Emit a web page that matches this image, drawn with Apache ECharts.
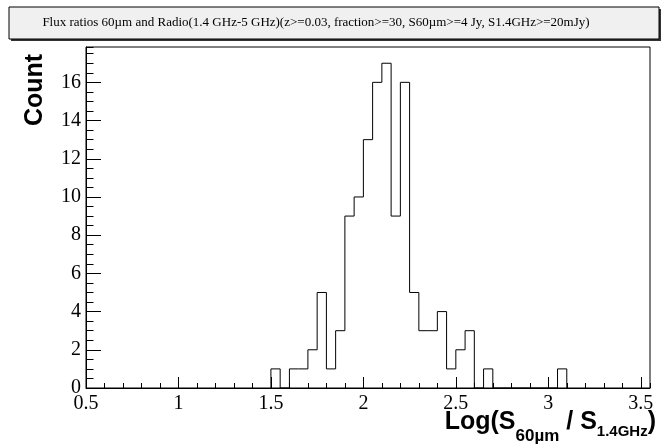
<!DOCTYPE html>
<html>
<head>
<meta charset="utf-8">
<script src="https://cdn.jsdelivr.net/npm/echarts@6/dist/echarts.min.js"></script>
<style>
    html, body { margin: 0; padding: 0; background: #fff; }
    #chart { width: 670px; height: 448px; }
</style>
</head>
<body>
<div id="chart"></div>
<script>
// histogram: bins of width 0.05 starting at 1.50
var binStart = 1.5;
var binWidth = 0.05;
var counts = [1, 0, 1, 1, 2, 5, 1, 3, 9, 10, 13, 16, 17, 9, 16, 5,
              3, 3, 4, 1, 2, 3, 0, 1, 0, 0, 0, 0, 0, 0, 0, 1];
var xTicks = [0.5, 1, 1.5, 2, 2.5, 3, 3.5];
var yTicks = [0, 2, 4, 6, 8, 10, 12, 14, 16];
var titleText = 'Flux ratios 60\u00b5m and Radio(1.4 GHz-5 GHz)(z>=0.03, fraction>=30, S60\u00b5m>=4 Jy, S1.4GHz>=20mJy)';

(function () {
    var chart = echarts.init(document.getElementById('chart'));

    // outline of the histogram as a step line
    var pts = [[binStart, 0]];
    for (var i = 0; i < counts.length; i++) {
        pts.push([+(binStart + i * binWidth).toFixed(2), counts[i]]);
    }
    pts.push([+(binStart + counts.length * binWidth).toFixed(2), 0]);

    var serif = 'Liberation Serif';
    var sans = 'Liberation Sans';

    var option = {
        animation: false,
        backgroundColor: '#fff',
        grid: {
            left: 86, right: 20, top: 47, bottom: 60,
            show: true, borderColor: '#000', borderWidth: 1
        },
        xAxis: [{
            type: 'value', min: 0.5, max: 3.55, interval: 0.5,
            axisLine: { show: true, onZero: false, lineStyle: { color: '#000', width: 1 } },
            axisTick: { inside: true, length: 11, lineStyle: { color: '#000' } },
            axisLabel: {
                showMaxLabel: false, margin: 6, color: '#000',
                fontFamily: serif, fontSize: 20,
                formatter: function (v) { return xTicks.indexOf(+v.toFixed(2)) >= 0 ? String(+v.toFixed(2)) : ''; }
            },
            splitLine: { show: false }
        }, {
            // minor ticks every 0.1
            type: 'value', min: 0.5, max: 3.55, interval: 0.1, position: 'bottom',
            axisLine: { show: false },
            axisTick: { inside: true, length: 5, lineStyle: { color: '#000' } },
            axisLabel: { show: false },
            splitLine: { show: false }
        }],
        yAxis: [{
            type: 'value', min: 0, max: 17.85, interval: 2,
            axisLine: { show: true, onZero: false, lineStyle: { color: '#000', width: 1 } },
            axisTick: { inside: true, length: 15, lineStyle: { color: '#000' } },
            axisLabel: {
                showMaxLabel: false, margin: 5, color: '#000',
                fontFamily: serif, fontSize: 20,
                formatter: function (v) { return yTicks.indexOf(v) >= 0 ? String(v) : ''; }
            },
            splitLine: { show: false }
        }, {
            type: 'value', min: 0, max: 17.85, interval: 0.5, position: 'left',
            axisLine: { show: false },
            axisTick: { inside: true, length: 7.5, lineStyle: { color: '#000' } },
            axisLabel: { show: false },
            splitLine: { show: false }
        }],
        series: [{
            type: 'line',
            step: 'end',
            data: pts,
            symbol: 'none',
            lineStyle: { color: '#000', width: 1 },
            silent: true
        }],
        graphic: [
            { type: 'rect', shape: { x: 11, y: 9, width: 650, height: 32 }, style: { fill: '#333' }, silent: true },
            { type: 'rect', shape: { x: 9, y: 7, width: 650, height: 32 }, style: { fill: '#f0f0f0', stroke: '#000', lineWidth: 1 }, silent: true },
            {
                type: 'text', x: 316, y: 23, silent: true,
                style: { text: titleText, fill: '#000', font: '13px "Liberation Serif"', align: 'center', verticalAlign: 'middle' }
            },
            {
                type: 'text', x: 35, y: 90, rotation: Math.PI / 2, silent: true,
                style: { text: 'Count', fill: '#000', font: 'bold 25px "Liberation Sans"', align: 'center', verticalAlign: 'middle' }
            },
            {
                type: 'text', x: 656, y: 410, silent: true,
                style: {
                    text: '{a|Log(S}{b|60\u00b5m}{a| / S}{c|1.4GHz}{a|)}',
                    align: 'right', verticalAlign: 'top',
                    rich: {
                        a: { fontFamily: sans, fontWeight: 'bold', fontSize: 25, lineHeight: 26, verticalAlign: 'top', fill: '#000' },
                        b: { fontFamily: sans, fontWeight: 'bold', fontSize: 17, lineHeight: 52, verticalAlign: 'middle', fill: '#000' },
                        c: { fontFamily: sans, fontWeight: 'bold', fontSize: 15, height: 44, lineHeight: 44, verticalAlign: 'top', fill: '#000' }
                    }
                }
            }
        ]
    };
    chart.setOption(option);
})();
</script>
</body>
</html>
